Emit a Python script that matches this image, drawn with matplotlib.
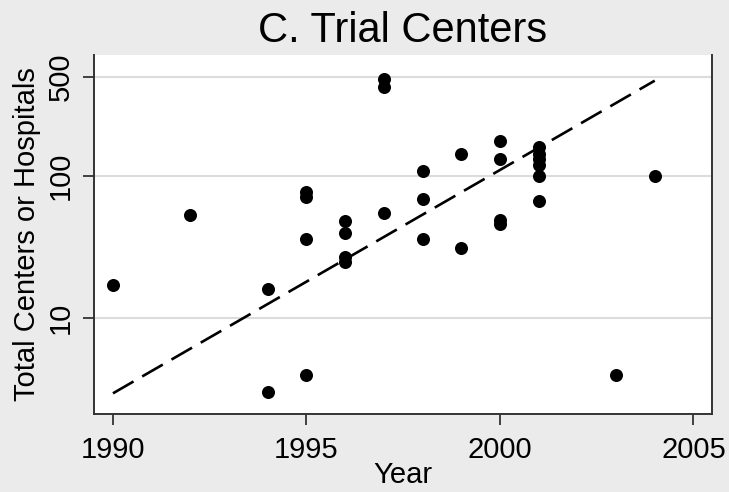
import matplotlib
matplotlib.use("Agg")
import matplotlib.pyplot as plt
import numpy as np

plt.rcParams['font.family'] = ['Liberation Sans', 'DejaVu Sans']

# data
years = [1990, 1992, 1994, 1994,
         1995, 1995, 1995, 1995,
         1996, 1996, 1996, 1996,
         1997, 1997, 1997,
         1998, 1998, 1998,
         1999, 1999,
         2000, 2000, 2000, 2000,
         2001, 2001, 2001, 2001, 2001, 2001,
         2003, 2004]
centers = [17, 53, 16, 3.0,
           77, 71, 36, 4.0,
           48, 40, 27, 25,
           480, 425, 55,
           109, 69, 36,
           143, 31,
           175, 132, 49, 46,
           161, 144, 132, 120, 100, 67,
           4.0, 100]
fit_years = [1990, 2004]
fit_values = [2.95, 469]

xticks = [1990, 1995, 2000, 2005]
yticks = [10, 100, 500]
ytick_labels = ["10", "100", "500"]

fig = plt.figure(figsize=(7.29, 4.92), dpi=100)
bg = '#ebebeb'
fig.patch.set_facecolor(bg)
ax = fig.add_axes([94/729, 1-414/492, (712-94)/729, (414-55)/492])
ax.set_facecolor('white')
ax.set_yscale('log')
ax.set_xlim(1989.51, 2005.48)
ax.set_ylim(2.11, 711)

for yt in yticks:
    ax.axhline(yt, color='#dcdcdc', lw=1.5, zorder=1)

ax.plot(fit_years, fit_values, color='black', lw=1.9, linestyle=(0, (9, 3.8)), zorder=3)
ax.scatter(years, centers, s=88, color='black', zorder=4, linewidths=0)

ax.set_xticks(xticks)
ax.set_xticklabels([str(x) for x in xticks], fontsize=21)
ax.set_yticks(yticks)
ax.set_yticklabels(ytick_labels, fontsize=21, rotation=90, va='center')
ax.minorticks_off()
ax.yaxis.set_minor_locator(matplotlib.ticker.NullLocator())
ax.tick_params(axis='both', length=8, width=1.3, color='#333333')
ax.tick_params(axis='x', pad=8)
ax.tick_params(axis='y', pad=6)

for s in ['left', 'bottom', 'right']:
    ax.spines[s].set_color('#333333')
    ax.spines[s].set_linewidth(1.4)
ax.spines['top'].set_visible(False)

ax.set_xlabel('Year', fontsize=21, labelpad=-2)
ax.set_ylabel('Total Centers or Hospitals', fontsize=21, labelpad=4)
ax.set_title('C. Trial Centers', fontsize=30, pad=9)

fig.savefig('out.png', dpi=100, facecolor=bg)
